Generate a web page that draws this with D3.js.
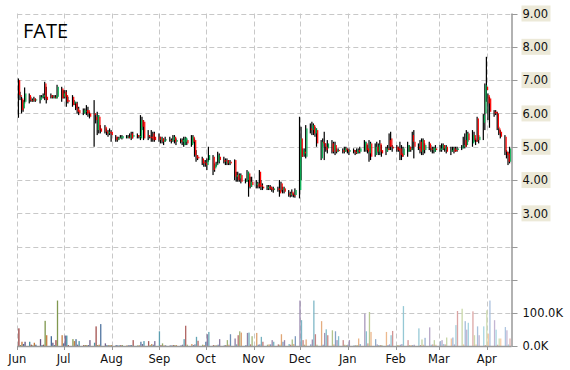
<!DOCTYPE html>
<html>
<head>
<meta charset="utf-8">
<script src="https://cdn.jsdelivr.net/npm/d3@7"></script>
<style>
  body { margin: 0; background: #fff; }
  svg { display: block; font-family: "DejaVu Sans", Verdana, sans-serif; }
</style>
</head>
<body>
<div class="chart"></div>
<script>
// daily rows: open, high, low, close, volume (K)
const jun14 = [[7.00,7.05,5.87,6.55,54],[6.55,6.65,6.40,6.50,3],[6.45,6.50,6.00,6.10,13],[6.15,6.40,6.05,6.35,6],[6.35,6.78,6.30,6.60,13],
  [6.55,6.60,6.30,6.40,13],[6.40,6.50,6.35,6.38,4],[6.40,6.45,6.35,6.42,2],[6.45,6.50,6.35,6.38,10],[6.40,6.45,6.35,6.42,4],
  [6.40,6.55,6.30,6.50,21],[6.50,6.55,6.45,6.52,3],[6.50,6.60,6.45,6.55,4],[6.90,6.95,6.40,6.45,77],[6.50,6.80,6.30,6.40,33],
  [6.55,6.60,6.45,6.48,30],[6.50,6.55,6.45,6.50,10],[6.50,6.55,6.45,6.48,3],[6.45,6.55,6.45,6.52,18],[6.50,6.86,6.45,6.80,139],
  [6.75,6.80,6.35,6.45,33]];
const jul14 = [[6.50,6.70,6.45,6.60,8],[6.65,6.70,6.45,6.50,32],[6.55,6.70,6.20,6.35,32],[6.40,6.50,6.30,6.35,3],
  [6.50,6.55,6.20,6.25,21],[6.30,6.40,6.25,6.35,15],[6.30,6.35,6.10,6.15,21],[6.15,6.35,6.00,6.05,4],[6.10,6.20,5.95,6.00,15],
  [6.00,6.15,5.95,6.10,3],[6.05,6.15,6.00,6.08,3],[6.10,6.25,5.95,6.00,3],[6.10,6.20,5.90,6.00,3],[6.00,6.05,5.85,5.90,18],
  [6.00,6.40,5.00,5.95,10],[5.90,6.00,5.70,5.80,60],[5.50,6.05,5.35,5.95,3],[5.90,5.95,5.40,5.50,4],[5.55,5.65,5.40,5.45,67],
  [5.60,5.65,5.40,5.45,8],[5.45,5.55,5.35,5.40,3],[5.40,5.50,5.30,5.45,2],[5.45,5.55,5.35,5.40,3]];
const aug14 = [[5.45,5.50,5.15,5.35,3],
  [5.30,5.35,5.15,5.20,3],[5.20,5.30,5.15,5.25,2],[5.25,5.30,5.20,5.28,2],[5.28,5.35,5.25,5.30,3],[5.25,5.35,5.22,5.32,3],
  [5.30,5.35,5.25,5.30,2],[5.30,5.35,5.25,5.28,2],[5.28,5.40,5.25,5.35,3],[5.40,5.45,5.20,5.25,3],[5.30,5.45,5.25,5.35,18],
  [5.35,5.40,5.25,5.30,2],[5.30,5.35,5.25,5.32,2],[5.25,5.95,5.20,5.80,13],[5.80,5.90,5.50,5.60,6],[5.75,5.80,5.20,5.25,15],
  [5.35,5.50,5.20,5.30,15],[5.30,5.35,5.25,5.28,3],[5.30,5.50,5.15,5.25,6],[5.40,5.45,5.15,5.20,4],[5.30,5.45,5.15,5.20,15]];
const sep14 = [[5.30,5.40,5.15,5.20,45],[5.20,5.30,5.10,5.25,3],[5.25,5.30,5.10,5.15,8],[5.15,5.25,5.05,5.20,2],[5.20,5.30,5.15,5.22,2],
  [5.20,5.30,5.15,5.18,2],[5.18,5.25,5.10,5.20,2],[5.20,5.35,5.15,5.30,3],[5.30,5.35,5.10,5.15,3],[5.15,5.25,5.05,5.20,3],
  [5.20,5.25,5.10,5.15,2],[5.15,5.25,5.05,5.20,4],[5.05,5.30,5.00,5.25,21],[5.15,5.30,5.05,5.28,62],[5.20,5.25,5.05,5.10,4],
  [5.05,5.35,5.00,5.30,6],[5.30,5.35,5.10,5.15,3],[5.20,5.25,4.70,4.75,5],[4.75,4.90,4.55,4.65,28],[4.70,4.75,4.60,4.65,16],
  [4.65,4.70,4.45,4.50,4],[4.55,4.60,4.40,4.50,3]];
const oct14 = [[4.50,4.60,4.40,4.45,13],[4.45,4.65,4.30,4.60,36],[4.60,5.00,4.55,4.75,43],
  [4.70,4.75,4.15,4.30,3],[4.35,4.50,4.25,4.45,2],[4.45,4.55,4.40,4.50,2],[4.55,4.85,4.45,4.75,4],[4.70,4.80,4.50,4.60,21],
  [4.60,4.70,4.50,4.55,2],[4.55,4.65,4.45,4.55,3],[4.60,4.65,4.45,4.50,18],[4.50,4.60,4.45,4.55,4],[4.55,4.60,4.45,4.50,36],
  [4.60,4.62,4.00,4.10,23],[4.10,4.25,3.95,4.15,5],[4.15,4.25,3.95,4.00,33],[4.05,4.20,3.95,4.15,45],[4.15,4.20,3.90,3.95,41],
  [3.95,4.05,3.90,4.00,3],[4.00,4.30,3.95,4.25,40],[4.20,4.25,3.50,3.80,41],[3.80,4.10,3.75,3.95,5],[3.95,4.10,3.80,3.85,30]];
const nov14 = [[3.85,4.00,3.75,3.90,40],[3.90,3.95,3.75,3.80,4],[4.25,4.30,3.75,3.80,5],[3.85,4.00,3.70,3.80,28],[3.80,3.90,3.70,3.75,13],
  [3.75,3.85,3.70,3.80,4],[3.80,3.85,3.70,3.75,5],[3.80,3.85,3.70,3.72,5],[3.75,3.80,3.65,3.70,18],[3.70,3.80,3.62,3.75,13],
  [3.75,3.80,3.65,3.70,5],[3.70,4.00,3.50,3.60,4],[3.90,3.95,3.65,3.70,36],[3.70,3.80,3.60,3.75,13],[3.75,3.80,3.60,3.65,18],
  [3.60,3.70,3.50,3.55,6],[3.55,3.65,3.48,3.60,4],[3.65,3.72,3.50,3.55,20],[3.55,3.60,3.48,3.52,6],[3.55,3.75,3.47,3.70,30]];
const dec14 = [[3.70,5.90,3.45,5.25,139],[5.25,5.60,4.00,4.70,79],[4.75,4.95,4.70,4.90,18],[4.85,4.95,4.70,4.80,4],[4.70,5.65,4.65,5.55,20],
  [5.55,5.70,5.40,5.50,5],[5.50,5.75,5.35,5.65,20],[5.65,5.70,5.35,5.40,139],[5.40,5.60,5.30,5.55,36],[5.50,5.55,5.00,5.10,4],
  [4.65,5.20,4.60,5.15,76],[5.15,5.25,5.00,5.10,4],[5.10,5.45,4.60,5.00,40],[5.00,5.10,4.85,4.90,51],[4.95,5.20,4.80,5.10,33],
  [5.10,5.20,4.80,4.85,48],[4.90,5.15,4.80,5.05,5],[5.05,5.15,4.75,4.85,45],[4.85,4.95,4.80,4.90,18],[4.90,4.95,4.85,4.88,30],
  [4.90,4.95,4.80,4.85,18],[4.85,5.00,4.80,4.95,4],[4.95,5.00,4.85,4.90,3]];
const jan15 = [[4.90,4.95,4.80,4.85,4],[4.85,4.95,4.75,4.90,18],
  [4.90,4.95,4.80,4.85,2],[4.85,4.90,4.75,4.80,2],[4.80,4.95,4.78,4.90,3],[4.90,4.95,4.80,4.85,23],[4.85,5.00,4.80,4.95,6],
  [4.90,5.20,4.85,5.15,99],[5.10,5.15,4.85,4.90,45],[4.95,5.05,4.80,4.85,8],[4.80,5.20,4.55,5.10,104],[5.10,5.15,4.60,4.70,43],
  [4.75,5.10,4.70,5.00,21],[5.00,5.15,4.80,4.85,5],[4.85,5.10,4.75,5.05,3],[5.10,5.20,4.75,4.85,3],[4.90,5.05,4.70,4.80,3],
  [4.85,5.00,4.75,4.95,43],[4.95,5.05,4.85,4.90,3],[5.20,5.40,4.90,5.00,5],[5.25,5.45,4.90,5.00,33],[5.00,5.05,4.85,4.95,46]];
const feb15 = [[5.00,5.05,4.85,4.90,3],[4.95,5.00,4.85,4.88,3],[4.95,5.15,4.60,4.75,4],[4.80,5.05,4.60,4.70,6],[4.75,5.00,4.70,4.95,122],
  [4.85,5.15,4.70,5.05,18],[5.00,5.05,4.85,4.90,3],[4.90,5.00,4.85,4.95,3],[5.35,5.45,4.90,5.15,3],[5.15,5.50,4.65,5.00,4],
  [5.00,5.10,4.90,4.95,54],[5.15,5.20,4.80,4.85,3],[4.85,5.25,4.75,5.20,20],[5.20,5.25,4.75,4.90,4],[4.90,5.10,4.80,5.05,25],
  [5.10,5.15,4.90,4.95,57],[4.95,5.05,4.85,4.90,4],[4.90,5.00,4.80,4.95,5],[4.85,5.00,4.80,4.97,18],[4.95,5.05,4.85,4.90,4]];
const mar15 = [[4.90,5.05,4.85,4.95,15],[4.95,5.10,4.85,5.05,18],[5.05,5.10,4.90,4.95,6],[4.90,5.05,4.85,5.00,5],[5.00,5.05,4.80,4.85,26],
  [4.85,5.00,4.75,4.90,23],[4.90,5.00,4.85,4.95,26],[4.95,5.00,4.80,4.85,5],[4.90,5.00,4.85,4.88,64],[4.90,5.00,4.85,4.95,107],
  [4.95,5.05,4.90,5.00,114],[5.00,5.30,4.95,5.05,5],[5.20,5.40,4.95,5.00,76],[5.05,5.50,5.00,5.40,50],[5.40,5.45,5.15,5.20,71],
  [5.10,5.50,5.00,5.35,106],[5.35,5.45,5.15,5.20,33],[5.20,5.25,5.05,5.15,5],[5.85,5.90,5.15,5.20,60],[5.20,5.35,5.10,5.30,33],
  [5.72,5.98,5.20,5.95,60],[6.00,6.90,5.50,6.85,3]];
const apr15 = [[6.80,7.70,6.35,6.70,109],[6.55,6.60,5.80,6.30,38],[6.45,6.50,5.57,6.05,139],
  [6.05,6.10,5.90,6.00,79],[6.05,6.10,5.95,6.00,50],[6.00,6.05,5.50,5.55,4],[5.55,5.60,5.35,5.40,23],[5.45,5.50,5.25,5.30,23],
  [5.30,5.35,4.75,4.85,58],[4.85,4.90,4.65,4.75,48],[4.80,4.85,4.45,4.55,5],[4.55,5.00,4.50,4.95,23]];

const priceTicks = [9, 8, 7, 6, 5, 4, 3];
const gridPrices = [9, 8, 7, 6, 5, 4, 3, 2, 1, 0];
const volTicks = [0, 100];
const volPalette = ["#C0504D", "#9BBB59", "#F79646", "#4F81BD", "#8064A2", "#4BACC6"];

const W = 570, H = 370;
const mLeft = 17.3, mRight = 511.5, mTop = 13.5, mBottom = 346;

// trading days Jun 2 2014 .. Apr 16 2015 (weekdays)
const days = d3.timeDays(new Date(2014, 5, 2), new Date(2015, 3, 17)).filter(d => d.getDay() % 6 !== 0);
const rows = [].concat(jun14, jul14, aug14, sep14, oct14, nov14, dec14, jan15, feb15, mar15, apr15);
const data = rows.map((r, i) => ({date: days[i], o: r[0], h: r[1], l: r[2], c: r[3], v: r[4]}));

var svg = d3.select(".chart").append("svg").attr("width", W).attr("height", H);

var x = d3.scaleTime().domain([new Date(2014, 5, 1), new Date(2015, 3, 17)]).range([mLeft, mRight]);
var y = d3.scaleLinear().domain([0, 9]).range([313.3, mTop]);
var yv = d3.scaleLinear().domain([0, 100]).range([mBottom, 313.3]);

const months = d3.timeMonths(new Date(2014, 5, 1), new Date(2015, 3, 2));

// grid
var grid = svg.append("g").attr("stroke", "#c8c8c8").attr("stroke-dasharray", "5,3");
grid.selectAll(".v").data(months).join("line")
  .attr("x1", d => Math.round(x(d)) + 0.5).attr("x2", d => Math.round(x(d)) + 0.5)
  .attr("y1", mTop).attr("y2", mBottom);
grid.selectAll(".h").data(gridPrices).join("line")
  .attr("x1", mLeft).attr("x2", mRight)
  .attr("y1", d => Math.round(y(d)) + 0.5).attr("y2", d => Math.round(y(d)) + 0.5);

// volume bars
var n = data.length;
svg.append("g").selectAll("rect").data(data).join("rect")
  .attr("x", d => x(d.date) - 0.6)
  .attr("width", 1.3)
  .attr("y", d => yv(d.v))
  .attr("height", d => mBottom - yv(d.v))
  .attr("fill", (d, i) => {
    var base = volPalette[i % volPalette.length];
    var t = i / (n - 1);
    return d3.interpolateRgb(d3.color(base).darker(0.7), d3.interpolateRgb(base, "#fff")(0.55))(t);
  });

// candles: black high-low bar with the coloured open-close body beside it
var cg = svg.append("g");
cg.selectAll(".wick").data(data).join("rect")
  .attr("x", d => x(d.date) - 1)
  .attr("width", 1.2)
  .attr("y", d => y(d.h))
  .attr("height", d => Math.max(1, y(d.l) - y(d.h)))
  .attr("fill", "#000");
cg.selectAll(".body").data(data).join("rect")
  .attr("x", d => x(d.date) + 0.2)
  .attr("width", 1.2)
  .attr("y", d => y(Math.max(d.o, d.c)))
  .attr("height", d => Math.max(1, Math.abs(y(d.o) - y(d.c))))
  .attr("fill", d => d.c >= d.o ? "#00B050" : "#FF0000");

// axis lines
svg.append("line").attr("x1", mRight + 0.5).attr("x2", mRight + 0.5).attr("y1", mTop).attr("y2", mBottom + 0.5)
  .attr("stroke", "#999").attr("stroke-width", 1.5);
svg.append("line").attr("x1", mLeft).attr("x2", mRight).attr("y1", mBottom + 0.5).attr("y2", mBottom + 0.5)
  .attr("stroke", "#999").attr("stroke-width", 1.5);

// right ticks
svg.append("g").selectAll("line").data(gridPrices).join("line")
  .attr("x1", mRight).attr("x2", mRight + 6)
  .attr("y1", d => Math.round(y(d)) + 0.5).attr("y2", d => Math.round(y(d)) + 0.5)
  .attr("stroke", "#999");
svg.append("line").attr("x1", mRight).attr("x2", mRight + 6).attr("y1", mBottom + 0.5).attr("y2", mBottom + 0.5).attr("stroke", "#999");

// bottom ticks
svg.append("g").selectAll("line").data(months).join("line")
  .attr("x1", d => Math.round(x(d)) + 0.5).attr("x2", d => Math.round(x(d)) + 0.5)
  .attr("y1", mBottom).attr("y2", mBottom + 4)
  .attr("stroke", "#999");

// price labels with beige background
var pl = svg.append("g").selectAll("g").data(priceTicks).join("g")
  .attr("transform", d => `translate(${mRight + 11},${y(d)})`);
pl.append("rect").attr("x", -1).attr("y", -8).attr("width", 29).attr("height", 16).attr("fill", "#ECE9D8");
pl.append("text").attr("dy", "0.36em").attr("font-size", 11.5).attr("fill", "#111")
  .text(d => d3.format(".2f")(d));

svg.append("g").selectAll("text").data(volTicks).join("text")
  .attr("x", mRight + 11).attr("y", d => yv(d)).attr("dy", "0.36em")
  .attr("font-size", 11.5).attr("fill", "#111")
  .text(d => d3.format(".1f")(d) + "K");

// month labels
svg.append("g").selectAll("text").data(months).join("text")
  .attr("x", d => x(d)).attr("y", 363)
  .attr("text-anchor", "middle").attr("font-size", 11.5).attr("fill", "#111")
  .text(d => d3.timeFormat("%b")(d));

// title
svg.append("text").attr("x", 23).attr("y", 38)
  .attr("font-family", "'Open Sans', sans-serif").attr("font-size", 20).attr("fill", "#000")
  .text("FATE");
</script>
</body>
</html>
